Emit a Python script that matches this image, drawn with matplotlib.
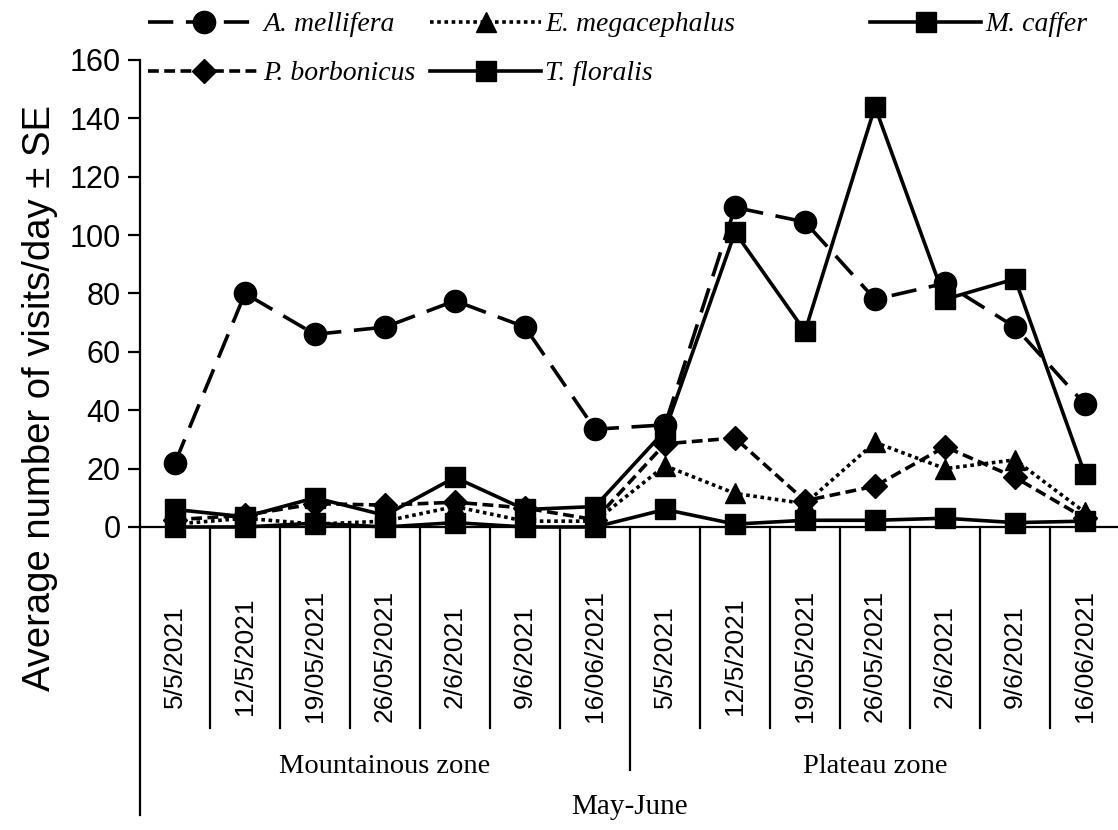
import matplotlib
matplotlib.use("Agg")
import matplotlib.pyplot as plt
from matplotlib import font_manager
from matplotlib.transforms import blended_transform_factory

dates = ["5/5/2021", "12/5/2021", "19/05/2021", "26/05/2021",
         "2/6/2021", "9/6/2021", "16/06/2021"]
zones = ["Mountainous zone", "Plateau zone"]
x_labels = dates + dates

a_mellifera = [22, 80, 66, 68.5, 77.5, 68.5, 33.5, 35, 109.5, 104.5, 78, 83.5, 68.5, 42]
e_megacephalus = [1, 3, 1, 2, 7, 2, 2, 21, 11.5, 8, 29, 20, 23, 5]
m_caffer = [0, 0, 1.3, 0, 1.5, 0, 0, 6, 1, 2.3, 2.3, 3, 1.5, 2]
p_borbonicus = [2.5, 4, 8, 7.5, 8.5, 6.5, 2.5, 28.5, 30.5, 9, 14, 27.5, 17, 3]
t_floralis = [6, 3.5, 10, 4, 17, 6, 7, 33, 101, 67, 144, 78, 85, 18]

names = {f.name for f in font_manager.fontManager.ttflist}
sans = "Liberation Sans Narrow" if "Liberation Sans Narrow" in names else "Liberation Sans"
serif = "Liberation Serif"

fig = plt.figure(figsize=(11.18, 8.3), dpi=100)
ax = fig.add_axes([140 / 1118, 303 / 830, 980 / 1118, 467 / 830])

x = list(range(len(x_labels)))
lw = 2.6

l_am, = ax.plot(x, a_mellifera, color="black", lw=lw, dashes=(7, 3.5),
                marker="o", ms=16, clip_on=False, zorder=3)
l_em, = ax.plot(x, e_megacephalus, color="black", lw=lw, dashes=(1, 1),
                marker="^", ms=15, clip_on=False, zorder=3)
l_mc, = ax.plot(x, m_caffer, color="black", lw=lw, linestyle="-",
                marker="s", ms=14, clip_on=False, zorder=3)
l_pb, = ax.plot(x, p_borbonicus, color="black", lw=lw, dashes=(3, 1.5),
                marker="D", ms=12, clip_on=False, zorder=3)
l_tf, = ax.plot(x, t_floralis, color="black", lw=lw, linestyle="-",
                marker="s", ms=14, clip_on=False, zorder=3)

ax.set_xlim(-0.5, 13.5)
ax.set_ylim(0, 160)
ax.set_yticks(range(0, 161, 20))
ax.set_xticks([])
for s in ["top", "right"]:
    ax.spines[s].set_visible(False)
ax.spines["left"].set_linewidth(1.6)
ax.spines["bottom"].set_linewidth(1.6)
ax.tick_params(axis="y", length=9, width=1.6, direction="out", pad=5)
for t in ax.get_yticklabels():
    t.set_fontfamily(sans)
    t.set_fontsize(22)

# date labels and separators under the axis
trans = blended_transform_factory(ax.transData, ax.transAxes)
for i, lab in enumerate(x_labels):
    ax.text(i, -0.277, lab, transform=trans, rotation=90, ha="center",
            va="center", fontsize=19, family="Liberation Sans")
for b in range(1, 14):
    bottom = -0.52 if b == 7 else -0.43
    ax.plot([b - 0.5, b - 0.5], [0, bottom], transform=trans, color="black",
            lw=1.6, clip_on=False)
ax.plot([-0.5, -0.5], [0, -0.617], transform=trans, color="black",
        lw=1.6, clip_on=False)

for k, zone in enumerate(zones):
    ax.text(3 + 7 * k, -0.513, zone, transform=trans, ha="center",
            va="center", fontsize=20.5, family=serif)
ax.text(6.5, -0.6, "May-June", transform=trans, ha="center", va="center",
        fontsize=21, family=serif)

fig.text(40 / 1118, 1 - 398 / 830, "Average number of visits/day \u00b1 SE",
         rotation=90, ha="center", va="center", fontsize=27.5,
         family="Liberation Sans")

# legend laid out as three columns
leg_prop = {"family": serif, "style": "italic", "size": 20}
columns = [([l_am, l_pb], ["A. mellifera", "P. borbonicus"], 148),
           ([l_em, l_tf], ["E. megacephalus", "T. floralis"], 430),
           ([l_mc], ["M. caffer"], 870)]
for handles, labels, left in columns:
    fig.legend(handles, labels, loc="upper left",
               bbox_to_anchor=(left / 1118, 1 - 12 / 830),
               frameon=False, handlelength=4.0, handletextpad=0.15,
               labelspacing=0.85, borderpad=0, borderaxespad=0,
               prop=leg_prop)

fig.savefig("out.png", dpi=100)
